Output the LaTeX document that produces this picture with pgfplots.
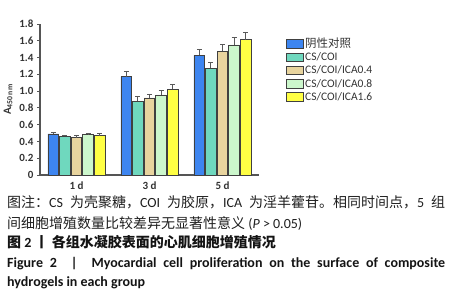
\documentclass[border=0pt]{standalone}
\usepackage{pgfplots}
\pgfplotsset{compat=1.18}
\usepackage{fontspec}
\setmainfont{Carlito}
\newfontfamily\cjk{Noto Sans CJK SC}
\definecolor{c1}{HTML}{3D85F0}
\definecolor{c2}{HTML}{6FD8BE}
\definecolor{c3}{HTML}{E8D49E}
\definecolor{c4}{HTML}{CCF7CC}
\definecolor{c5}{HTML}{FFFF44}
\definecolor{axgray}{HTML}{555555}
\definecolor{txt}{HTML}{333333}
\pgfplotstableread{
x y1 e1 y2 e2 y3 e3 y4 e4 y5 e5
0 0.489 0.020 0.462 0.015 0.446 0.020 0.480 0.015 0.469 0.024
1 1.172 0.067 0.882 0.052 0.918 0.044 0.954 0.055 1.025 0.056
2 1.427 0.071 1.272 0.075 1.478 0.080 1.550 0.087 1.610 0.086
}\datatable
\begin{document}
\begin{tikzpicture}
\useasboundingbox (0pt,0pt) rectangle (456pt,300pt);
\begin{axis}[
  at={(40pt,125pt)}, anchor=south west,
  scale only axis, width=219pt, height=151pt,
  xmin=-0.5, xmax=2.5, ymin=0, ymax=1.8,
  axis x line*=bottom, axis y line*=left,
  axis line style={-, draw=axgray, line width=1.1pt},
  xtick={0,1,2}, xticklabels={1 d,3 d,5 d},
  xtick style={draw=none},
  ytick={0,0.2,0.4,0.6,0.8,1.0,1.2,1.4,1.6,1.8},
  yticklabels={0,0.2,0.4,0.6,0.8,1.0,1.2,1.4,1.6,1.8},
  tick align=outside, major tick length=3pt,
  ytick style={draw=axgray, line width=0.8pt},
  tick label style={font=\fontsize{11}{12}\selectfont\bfseries, text=txt},
  ylabel={A\textsubscript{450\,nm}},
  ylabel style={font=\fontsize{11}{12}\selectfont\bfseries, text=txt},
  ybar=1pt, bar width=10.6pt,
  every axis plot/.append style={draw=black!75, line width=0.9pt},
  error bars/y dir=plus, error bars/y explicit,
  error bars/error bar style={line width=0.9pt, draw=black!65},
  error bars/error mark options={rotate=90, mark size=2.5pt, line width=0.9pt, draw=black!65},
  legend image code/.code={\draw[#1, draw=black!75, line width=0.9pt] (0pt,-4pt) rectangle (17pt,4.5pt);},
  legend style={at={(1.11,0.92)}, anchor=north west, draw=none, fill=none,
    font=\fontsize{11.5}{12}\selectfont, text=txt,
    nodes={inner sep=1pt, text height=8pt, text depth=2pt}, row sep=1.25pt},
  legend cell align=left,
  clip=false,
]
\addplot[fill=c1] table[x=x, y=y1, y error=e1]{\datatable};
\addplot[fill=c2] table[x=x, y=y2, y error=e2]{\datatable};
\addplot[fill=c3] table[x=x, y=y3, y error=e3]{\datatable};
\addplot[fill=c4] table[x=x, y=y4, y error=e4]{\datatable};
\addplot[fill=c5] table[x=x, y=y5, y error=e5]{\datatable};
\legend{{\cjk 阴性对照},CS/COI,CS/COI/ICA0.4,CS/COI/ICA0.8,CS/COI/ICA1.6}
\end{axis}
\node[anchor=base west, inner sep=0pt, text=black!88] at (7pt,92pt) {\fontsize{14}{16}\selectfont\XeTeXinterchartokenstate=1
  \XeTeXinterchartoks 1 1 = {\hskip 0pt plus 1pt}%
  \XeTeXinterchartoks 1 3 = {\hskip 0pt plus 1pt}%
  \XeTeXinterchartoks 3 1 = {\hskip 0pt plus 1pt}%
  \XeTeXinterchartoks 0 1 = {\hskip 0pt plus 1pt}%
  \XeTeXinterchartoks 1 0 = {\hskip 0pt plus 1pt}%
  \XeTeXinterchartoks 3 0 = {\hskip 0pt plus 1pt}%
  \makebox[438pt][s]{{\cjk 图注：}CS {\cjk 为壳聚糖，}COI {\cjk 为胶原，}ICA {\cjk 为淫羊藿苷。相同时间点，}5 {\cjk 组}}};
\node[anchor=base west, inner sep=0pt, text=black!88] at (7pt,71pt) {\fontsize{14}{16}\selectfont{\cjk 间细胞增殖数量比较差异无显著性意义} (\textit{P} > 0.05)};
\node[anchor=base west, inner sep=0pt, text=black!92] at (7pt,52pt) {\fontsize{14}{16}\selectfont\bfseries{\cjk 图} 2 {\cjk 丨 各组水凝胶表面的心肌细胞增殖情况}};
\node[anchor=base west, inner sep=0pt, text=black!92] at (7pt,32pt) {\fontsize{14}{16}\selectfont\bfseries\makebox[438pt][s]{Figure 2\quad|\quad Myocardial cell proliferation on the surface of composite}};
\node[anchor=base west, inner sep=0pt, text=black!92] at (7pt,13pt) {\fontsize{14}{16}\selectfont\bfseries hydrogels in each group};
\end{tikzpicture}
\end{document}
